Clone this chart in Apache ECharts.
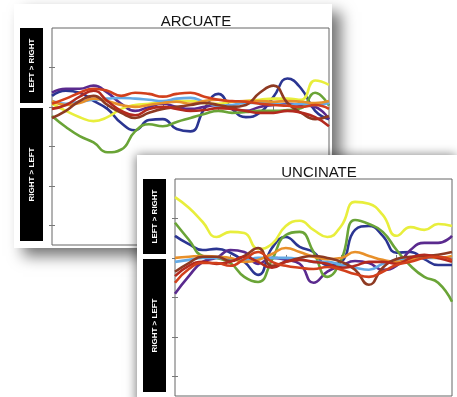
<!DOCTYPE html>
<html>
<head>
<meta charset="utf-8">
<script src="https://cdn.jsdelivr.net/npm/echarts@6/dist/echarts.min.js"></script>
<style>
  html, body { margin: 0; padding: 0; width: 457px; height: 397px; overflow: hidden; background: #fff; }
  .card { position: absolute; background: #fff; }
  #arcuate { left: 14px; top: 4px; width: 318px; height: 244px; box-shadow: 9px 8px 14px rgba(0,0,0,0.55); }
  #uncinate { left: 137px; top: 155px; width: 320px; height: 250px; box-shadow: -1px 0 10px rgba(0,0,0,0.5); }
</style>
</head>
<body>
<div id="arcuate" class="card"></div>
<div id="uncinate" class="card"></div>
<script>
// sample positions along the tract (0-100)
const xSamples = [0, 5, 10, 15, 20, 25, 30, 35, 40, 45, 50, 55, 60, 65, 70, 75, 80, 85, 90, 95, 100]
const xTicks = [20, 40, 60, 80]
const yTicks = [-3, -2, -1, 0, 1]

const lineNames = ['navy', 'purple', 'yellow', 'green', 'lightBlue', 'orange', 'brown', 'darkRed', 'red']
const lineColors = ['#2b3592', '#5a2a8e', '#e8ee3c', '#6aa437', '#64aae6', '#e8902a', '#8e3a22', '#b32a1e', '#d2401c']

// ARCUATE
const arcNavy = [0.28, 0.41, 0.36, 0.15, -0.05, -0.41, -0.59, -0.33, -0.31, -0.56, -0.62, -0.05, 0.33, -0.05, -0.26, -0.15, 0.26, 0.72, 0.46, -0.10, -0.31]
const arcPurple = [0.36, 0.46, 0.46, 0.54, 0.36, 0.08, -0.10, 0, 0.08, 0, -0.05, 0, 0.05, -0.05, -0.10, 0, 0.05, 0.08, 0.05, 0, -0.31]
const arcYellow = [0.08, -0.10, -0.26, -0.36, -0.26, -0.05, 0.05, 0.08, 0.13, 0.15, 0.15, 0.10, 0.08, 0.13, 0.15, 0.18, 0.21, 0.21, 0.18, 0.67, 0.56]
const arcGreen = [-0.23, -0.51, -0.74, -0.90, -1.15, -1.08, -0.62, -0.44, -0.49, -0.38, -0.28, -0.18, -0.10, -0.15, -0.13, -0.10, -0.10, -0.08, -0.03, 0.36, 0.03]
const arcLightBlue = [0.15, 0.08, 0.13, 0.18, 0.21, 0.23, 0.21, 0.18, 0.15, 0.21, 0.23, 0.13, 0.03, 0.05, 0.10, 0.10, 0.08, 0.05, 0.08, 0.05, 0.10]
const arcOrange = [0.15, 0.05, 0.10, 0.21, 0.15, 0.05, 0, 0.05, 0.10, 0.13, 0.08, 0.15, 0.18, 0.13, 0.15, 0.15, 0.13, 0.15, 0.13, 0.10, 0.15]
const arcBrown = [-0.28, -0.10, 0.15, 0.28, 0.05, -0.15, -0.28, -0.15, -0.05, 0, 0.05, 0.10, 0.05, 0, 0.05, 0.36, 0.54, 0.10, -0.15, -0.31, -0.23]
const arcDarkRed = [-0.05, 0.05, 0.26, 0.41, 0.15, -0.10, -0.21, -0.05, 0, -0.05, -0.10, -0.08, -0.03, -0.05, -0.10, -0.15, -0.15, -0.10, -0.15, -0.26, -0.49]
const arcRed = [0.08, 0.21, 0.36, 0.46, 0.41, 0.28, 0.36, 0.33, 0.26, 0.33, 0.36, 0.26, 0.18, 0.15, 0.13, 0.08, 0.05, 0.03, 0, 0.05, -0.05]

// UNCINATE
const uncNavy = [0.56, 0.35, 0.20, 0.23, 0.13, -0.10, -0.43, 0.25, 0.53, 0.28, 0.15, -0.18, -0.10, 0.71, 0.81, 0.56, 0.13, 0.15, -0.03, -0.18, -0.18]
const uncPurple = [-0.91, -0.46, -0.10, 0, 0.20, 0.15, -0.15, 0, -0.05, -0.15, -0.63, -0.35, -0.20, -0.08, -0.13, -0.30, -0.20, 0.20, 0.38, 0.38, 0.56]
const uncYellow = [1.54, 1.27, 0.91, 0.53, 0.66, 0.63, 0.23, 0.35, 0.81, 0.94, 0.71, 0.53, 0.81, 1.42, 1.37, 1.09, 0.56, 0.78, 0.71, 0.86, 0.81]
const uncGreen = [0.89, 0.46, 0.05, 0, -0.13, -0.48, -0.61, -0.05, 0.58, 0.66, 0.15, -0.48, -0.05, 0.96, 0.86, 0.66, 0.20, -0.20, -0.48, -0.63, -1.11]
const uncLightBlue = [-0.10, -0.05, 0, 0, -0.03, -0.05, 0, 0, 0, -0.03, -0.10, -0.10, -0.18, -0.25, -0.30, -0.15, -0.05, 0, 0, 0, 0]
const uncOrange = [0, 0.03, 0.05, 0.03, 0, -0.10, -0.05, 0.10, 0.25, 0.15, 0.03, -0.03, 0, 0.15, 0.05, -0.05, -0.10, -0.05, 0.05, 0, 0.05]
const uncBrown = [-0.35, -0.13, 0.03, 0.03, -0.08, 0.05, 0.25, -0.20, -0.10, 0, 0.05, 0, -0.10, -0.30, -0.68, -0.25, -0.03, 0.03, 0.05, 0.08, 0.15]
const uncDarkRed = [-0.46, -0.20, -0.10, -0.15, -0.10, 0.03, -0.10, -0.25, -0.10, -0.05, -0.10, -0.15, -0.25, -0.20, -0.10, -0.10, -0.15, 0, 0.08, 0, -0.10]
const uncRed = [-0.63, -0.28, -0.13, -0.13, -0.20, -0.03, 0.15, -0.10, -0.20, -0.25, -0.28, -0.23, -0.30, -0.41, -0.48, -0.35, -0.18, -0.10, 0, 0.03, -0.05]

const arcuateLines = [arcNavy, arcPurple, arcYellow, arcGreen, arcLightBlue, arcOrange, arcBrown, arcDarkRed, arcRed]
const uncinateLines = [uncNavy, uncPurple, uncYellow, uncGreen, uncLightBlue, uncOrange, uncBrown, uncDarkRed, uncRed]

const sideBox = (y, h, label) => [
  { type: 'rect', shape: { x: 6, y: y, width: 23, height: h }, style: { fill: '#000' } },
  {
    type: 'text', x: 18, y: y + h / 2, rotation: Math.PI / 2,
    style: { text: label, fill: '#fff', font: 'bold 8px "Liberation Sans", Arial, sans-serif', align: 'center', verticalAlign: 'middle' }
  }
]

const tickStyle = { show: true, inside: true, length: 3, lineStyle: { color: '#777', width: 1 } }

const buildOption = (title, lines) => ({
  animation: false,
  title: {
    text: title, left: 177, top: 5, textAlign: 'center',
    textStyle: { fontSize: 15, fontWeight: 'normal', color: '#151515', fontFamily: '"Liberation Sans", Arial, sans-serif' }
  },
  grid: { left: 38, top: 24, width: 277, height: 217, show: true, borderColor: '#666', borderWidth: 1, backgroundColor: '#fff' },
  xAxis: [
    { type: 'value', min: 0, max: 100, position: 'bottom', axisLine: { show: false }, axisLabel: { show: false }, splitLine: { show: false }, axisTick: { ...tickStyle, customValues: xTicks } },
    { type: 'value', min: 0, max: 100, position: 'top', axisLine: { show: false }, axisLabel: { show: false }, splitLine: { show: false }, axisTick: { ...tickStyle, customValues: xTicks } }
  ],
  yAxis: [
    { type: 'value', min: -3.5, max: 2, position: 'left', axisLine: { show: false }, axisLabel: { show: false }, splitLine: { show: false }, axisTick: { ...tickStyle, customValues: yTicks } },
    { type: 'value', min: -3.5, max: 2, position: 'right', axisLine: { show: false }, axisLabel: { show: false }, splitLine: { show: false }, axisTick: { ...tickStyle, customValues: yTicks } }
  ],
  graphic: [...sideBox(24, 75, 'LEFT > RIGHT'), ...sideBox(104, 133, 'RIGHT > LEFT')],
  series: lines.map((vals, i) => ({
    name: lineNames[i],
    type: 'line',
    smooth: 0.5,
    showSymbol: false,
    lineStyle: { color: lineColors[i], width: 2.6 },
    data: xSamples.map((x, j) => [x, vals[j]])
  }))
})

echarts.init(document.getElementById('arcuate')).setOption(buildOption('ARCUATE', arcuateLines))
echarts.init(document.getElementById('uncinate')).setOption(buildOption('UNCINATE', uncinateLines))
</script>
</body>
</html>
